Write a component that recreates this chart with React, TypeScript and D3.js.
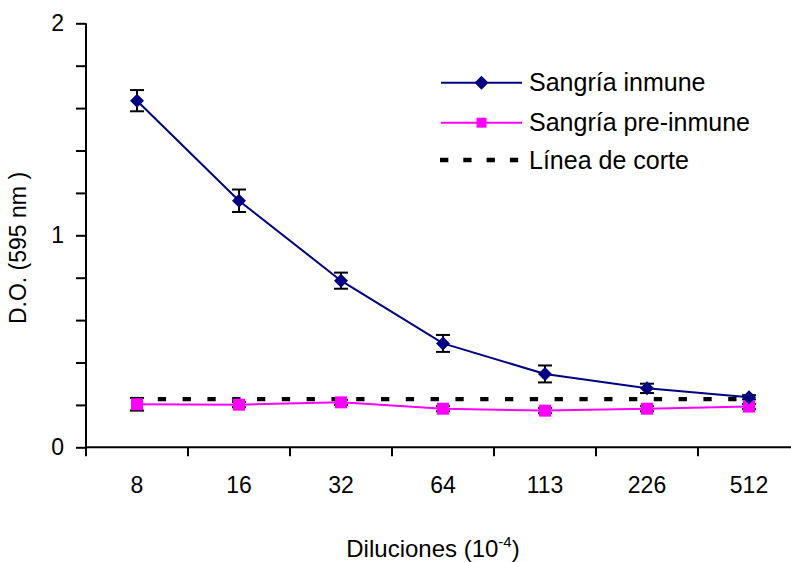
import { useEffect, useRef } from "react";
import * as d3 from "d3";

const diluciones = ["8", "16", "32", "64", "113", "226", "512"];
const inmune = [1.635, 1.163, 0.786, 0.49, 0.346, 0.278, 0.236];
const inmuneErr = [0.05, 0.053, 0.038, 0.04, 0.04, 0.022, 0.01];
const preInmune = [0.203, 0.201, 0.212, 0.182, 0.173, 0.182, 0.192];
const preInmuneErr = [0.03, 0.012, 0.012, 0.012, 0.012, 0.012, 0.012];
const corte = [0.227, 0.227, 0.227, 0.227, 0.227, 0.227, 0.227];
const yTicks = [0, 0.2, 0.4, 0.6, 0.8, 1, 1.2, 1.4, 1.6, 1.8, 2];

const NAVY = "#000080";
const PINK = "#FF00FF";
const FONT = "'Liberation Sans', Arial, sans-serif";

export default function App() {
  const svgRef = useRef<SVGSVGElement>(null);

  useEffect(() => {
    const w = 791;
    const h = 562;
    const svg = d3.select(svgRef.current).attr("width", w).attr("height", h);
    svg.selectAll("*").remove();

    const x = d3.scaleBand().domain(diluciones).range([86, 800]).padding(0);
    const y = d3.scaleLinear().domain([0, 2]).range([447.3, 23.3]);
    const cx = (i: number) => (x(diluciones[i]) as number) + x.bandwidth() / 2;

    // y axis
    const yAxis = d3
      .axisLeft(y)
      .tickValues(yTicks)
      .tickSize(10)
      .tickSizeOuter(0)
      .tickPadding(12)
      .tickFormat((d) => (Number(d) % 1 === 0 ? String(d) : ""));
    const gy = svg.append("g").attr("transform", "translate(86,0)").call(yAxis);
    gy.select(".domain").attr("stroke", "#000").attr("stroke-width", 2).attr("d", `M0,${y(2)}V456`);
    gy.selectAll(".tick line").attr("stroke", "#000").attr("stroke-width", 2);
    gy.selectAll(".tick text")
      .attr("font-family", FONT)
      .attr("font-size", 23)
      .attr("fill", "#000");

    // x axis
    const gx = svg.append("g").attr("transform", `translate(0,${y(0)})`);
    gx.append("line")
      .attr("x1", 86)
      .attr("x2", 800)
      .attr("stroke", "#000")
      .attr("stroke-width", 2);
    gx.selectAll(".xt")
      .data(diluciones)
      .join("line")
      .attr("x1", (d) => x(d) as number)
      .attr("x2", (d) => x(d) as number)
      .attr("y1", 0)
      .attr("y2", 9)
      .attr("stroke", "#000")
      .attr("stroke-width", 2);
    gx.selectAll(".xl")
      .data(diluciones)
      .join("text")
      .attr("x", (d, i) => cx(i))
      .attr("y", 45.5)
      .attr("text-anchor", "middle")
      .attr("font-family", FONT)
      .attr("font-size", 23)
      .text((d) => d);

    // axis titles
    svg.append("text")
      .attr("transform", "translate(26,248) rotate(-90)")
      .attr("text-anchor", "middle")
      .attr("font-family", FONT)
      .attr("font-size", 23)
      .text("D.O. (595 nm )");

    const xt = svg.append("text")
      .attr("x", 433)
      .attr("y", 557)
      .attr("text-anchor", "middle")
      .attr("font-family", FONT)
      .attr("font-size", 24);
    xt.append("tspan").text("Diluciones (10");
    xt.append("tspan").attr("font-size", 15).attr("dy", -10).text("-4");
    xt.append("tspan").attr("dy", 10).text(")");

    // cut-off line
    const line = d3
      .line<number>()
      .x((d, i) => cx(i))
      .y((d) => y(d));
    svg.append("path")
      .attr("d", `M${cx(0) - 4},${y(corte[0])}H${cx(corte.length - 1) + 4}`)
      .attr("fill", "none")
      .attr("stroke", "#000")
      .attr("stroke-width", 4.3)
      .attr("stroke-dasharray", "8.3 16.5");

    // error bars
    const errBars = (vals: number[], errs: number[]) => {
      const g = svg.append("g").attr("stroke", "#000").attr("stroke-width", 2);
      vals.forEach((v, i) => {
        const xi = cx(i);
        const y1 = y(v + errs[i]);
        const y2 = y(v - errs[i]);
        g.append("line").attr("x1", xi).attr("x2", xi).attr("y1", y1).attr("y2", y2);
        g.append("line").attr("x1", xi - 7).attr("x2", xi + 7).attr("y1", y1).attr("y2", y1);
        g.append("line").attr("x1", xi - 7).attr("x2", xi + 7).attr("y1", y2).attr("y2", y2);
      });
    };

    // pre-inmune series
    errBars(preInmune, preInmuneErr);
    svg.append("path")
      .attr("d", line(preInmune))
      .attr("fill", "none")
      .attr("stroke", PINK)
      .attr("stroke-width", 2);
    const sq = d3.symbol().type(d3.symbolSquare).size(144);
    svg.selectAll(".sq")
      .data(preInmune)
      .join("path")
      .attr("transform", (d, i) => `translate(${cx(i)},${y(d)})`)
      .attr("d", sq())
      .attr("fill", PINK);

    // inmune series
    errBars(inmune, inmuneErr);
    svg.append("path")
      .attr("d", line(inmune))
      .attr("fill", "none")
      .attr("stroke", NAVY)
      .attr("stroke-width", 2);
    const dm = d3.symbol().type(d3.symbolSquare).size(98);
    svg.selectAll(".dm")
      .data(inmune)
      .join("path")
      .attr("transform", (d, i) => `translate(${cx(i)},${y(d)}) rotate(45)`)
      .attr("d", dm())
      .attr("fill", NAVY);

    // legend
    const lg = svg.append("g").attr("font-family", FONT).attr("font-size", 25);
    const rows = [
      { label: "Sangría inmune", color: NAVY, ly: 82.7 },
      { label: "Sangría pre-inmune", color: PINK, ly: 122.7 },
      { label: "Línea de corte", color: "#000", ly: 160 },
    ];
    rows.forEach((r, i) => {
      if (i < 2) {
        lg.append("line")
          .attr("x1", 441)
          .attr("x2", 522)
          .attr("y1", r.ly)
          .attr("y2", r.ly)
          .attr("stroke", r.color)
          .attr("stroke-width", 2);
        lg.append("path")
          .attr("transform", `translate(481.5,${r.ly})${i === 0 ? " rotate(45)" : ""}`)
          .attr("d", i === 0 ? dm() : d3.symbol().type(d3.symbolSquare).size(100)())
          .attr("fill", r.color);
      } else {
        lg.append("line")
          .attr("x1", 440)
          .attr("x2", 520)
          .attr("y1", r.ly)
          .attr("y2", r.ly)
          .attr("stroke", "#000")
          .attr("stroke-width", 4.3)
          .attr("stroke-dasharray", "8.3 15");
      }
      lg.append("text")
        .attr("x", 529)
        .attr("y", r.ly + 8.5)
        .text(r.label);
    });
  }, []);

  return (
    <svg
      ref={svgRef}
      style={{ position: "absolute", left: 0, top: 0, display: "block", background: "#fff" }}
    ></svg>
  );
}
